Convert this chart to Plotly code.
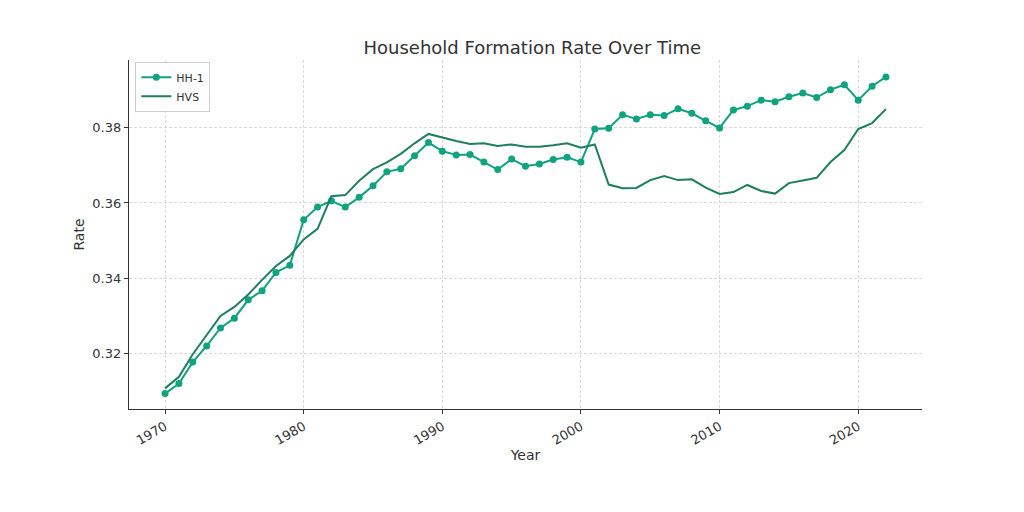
import plotly.graph_objects as go

years = list(range(1970, 2023))

hh1 = [0.3092, 0.3119, 0.3176, 0.3219, 0.3267, 0.3293, 0.3342, 0.3366, 0.3415, 0.3434,
       0.3555, 0.3589, 0.3606, 0.3589, 0.3615, 0.3646, 0.3683, 0.3691, 0.3726, 0.3761,
       0.3738, 0.3728, 0.3729, 0.3709, 0.3689, 0.3717, 0.3698, 0.3704, 0.3716, 0.3722,
       0.3709, 0.3797, 0.3799, 0.3835, 0.3824, 0.3835, 0.3833, 0.3851, 0.3839, 0.3819,
       0.3800, 0.3848, 0.3858, 0.3874, 0.3870, 0.3883, 0.3893, 0.3881, 0.3902, 0.3915,
       0.3874, 0.3911, 0.3936]

hvs = [0.3106, 0.3137, 0.3197, 0.3247, 0.3299, 0.3323, 0.3356, 0.3395, 0.3432, 0.3459,
       0.3503, 0.3531, 0.3618, 0.3621, 0.3659, 0.3690, 0.3708, 0.3731, 0.3759, 0.3784,
       0.3774, 0.3765, 0.3757, 0.3759, 0.3752, 0.3756, 0.3750, 0.3750, 0.3754, 0.3759,
       0.3747, 0.3756, 0.3649, 0.3639, 0.3640, 0.3661, 0.3672, 0.3661, 0.3663, 0.3641,
       0.3624, 0.3629, 0.3648, 0.3632, 0.3625, 0.3653, 0.3660, 0.3667, 0.3709, 0.3741,
       0.3797, 0.3813, 0.3850]

x_ticks = [1970, 1980, 1990, 2000, 2010, 2020]
y_ticks = [0.32, 0.34, 0.36, 0.38]

font_family = "DejaVu Sans"

fig = go.Figure()
fig.add_trace(go.Scatter(
    x=years, y=hh1, name="HH-1", mode="lines+markers",
    line=dict(color="#10a37f", width=2),
    marker=dict(color="#10a37f", size=7),
))
fig.add_trace(go.Scatter(
    x=years, y=hvs, name="HVS", mode="lines",
    line=dict(color="#1d7f5f", width=2),
))

axis_common = dict(
    showgrid=True, gridcolor="#d9d9d9", griddash="3px,2px", gridwidth=1,
    showline=True, linecolor="#333333", linewidth=1.2,
    ticks="outside", ticklen=4, tickcolor="#333333",
    tickfont=dict(size=13, color="#333333", family=font_family),
    zeroline=False, mirror=False,
)

fig.update_layout(
    width=1024, height=512,
    paper_bgcolor="white", plot_bgcolor="white",
    margin=dict(l=121, r=110, t=52, b=111),
    title=dict(text="Household Formation Rate Over Time", x=0.512, xanchor="center",
               y=0.922, yanchor="middle",
               font=dict(size=18, color="#333333", family=font_family)),
    font=dict(family=font_family, color="#333333"),
    showlegend=True,
    legend=dict(x=0.008, y=0.995, xanchor="left", yanchor="top",
                bgcolor="rgba(255,255,255,0.9)", bordercolor="#cccccc", borderwidth=1,
                font=dict(size=11, color="#333333", family=font_family),
                itemwidth=30, tracegroupgap=0),
    xaxis=dict(axis_common, range=[1967.4, 2024.6], tickvals=x_ticks,
               ticktext=[str(v) for v in x_ticks], tickangle=-30,
               title=dict(text="Year", font=dict(size=14, color="#333333"), standoff=3)),
    yaxis=dict(axis_common, range=[0.3051, 0.3981], tickvals=y_ticks,
               ticktext=["%.2f" % v for v in y_ticks],
               title=dict(text="Rate", font=dict(size=14, color="#333333"), standoff=4)),
)

fig.write_html("out.html")
